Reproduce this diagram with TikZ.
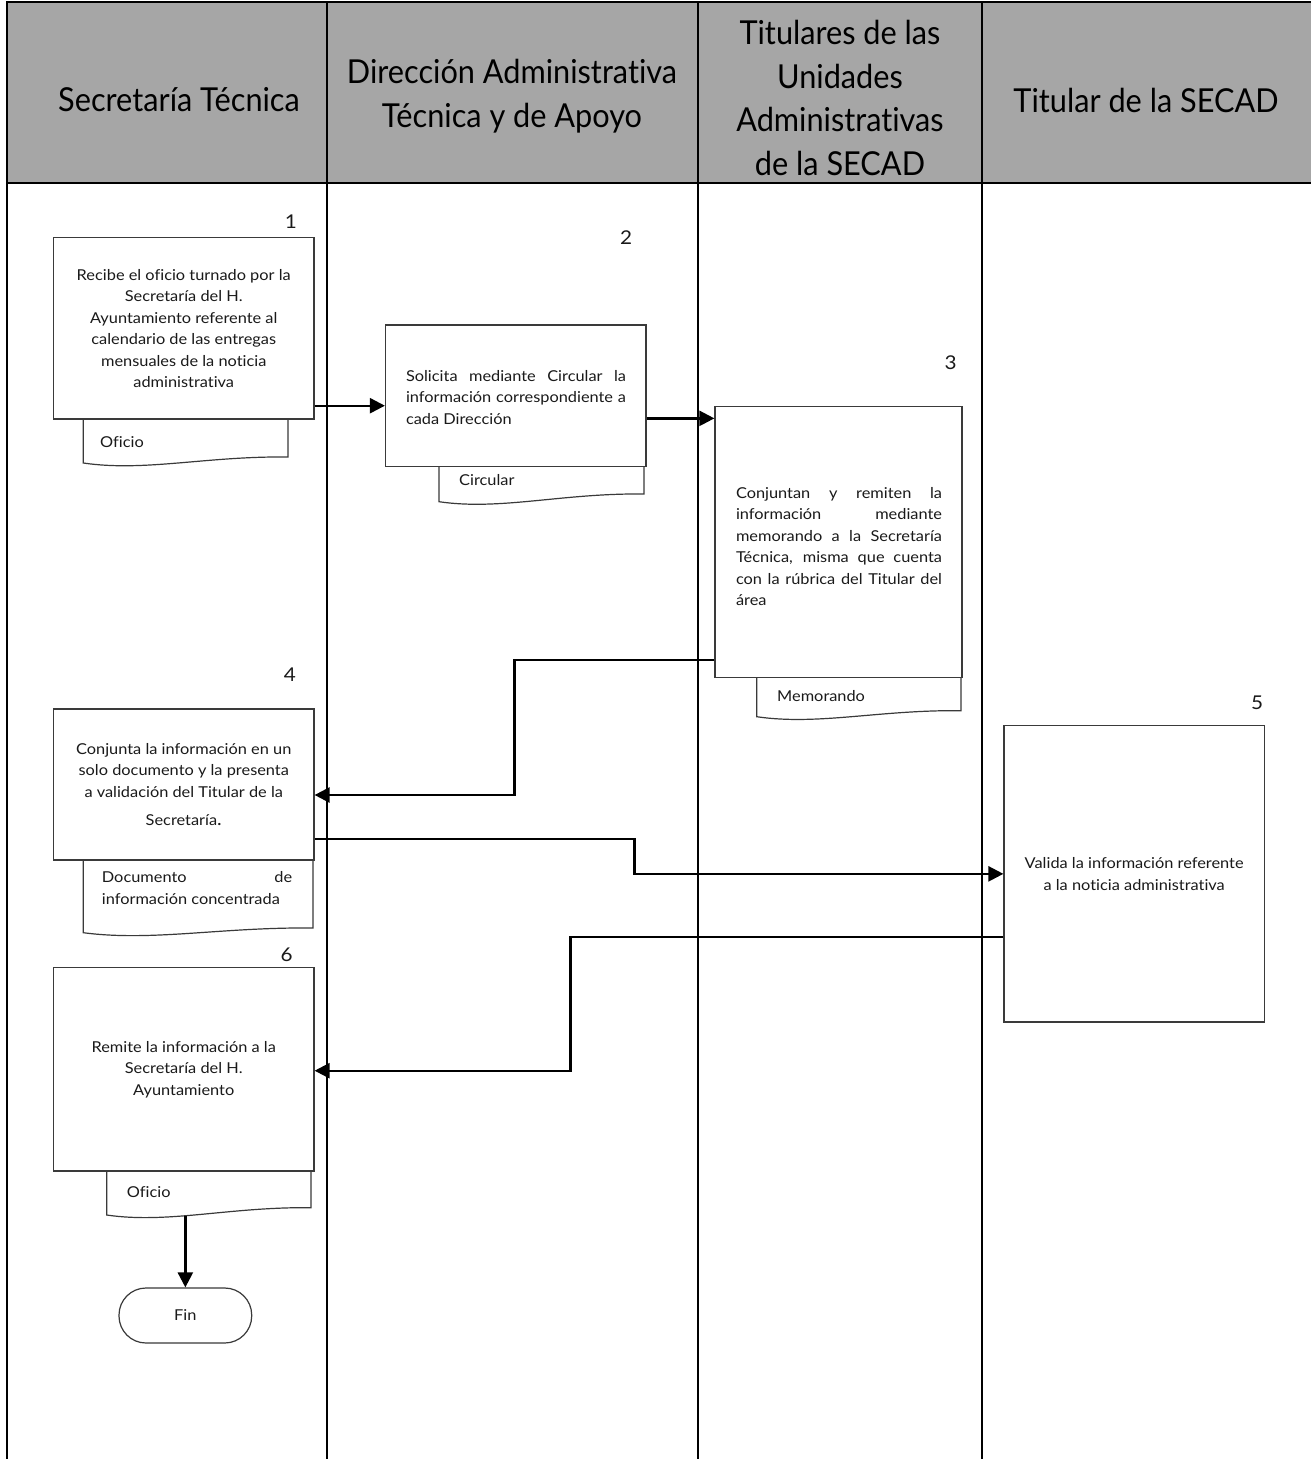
\documentclass[tikz,border=0pt]{standalone}
\usepackage{fontspec}
\setmainfont{Lato}
\newfontfamily\bodyfam{Lato}[FakeStretch=1.09, Ligatures=NoCommon]
\newfontfamily\headfam{Lato}[FakeStretch=0.93, Ligatures=NoCommon]
\usetikzlibrary{arrows.meta,calc}

\newcommand\flowbody{\bodyfam\fontsize{15}{21.5}\selectfont}
\newcommand\flowhead{\headfam\fontsize{33}{43.5}\selectfont}
\newcommand\flownum{\bodyfam\fontsize{19}{22}\selectfont}

\definecolor{headgray}{HTML}{A6A6A6}
\definecolor{boxline}{HTML}{3A3A3A}
\definecolor{inktext}{HTML}{1A1A1A}

\begin{document}
\begin{tikzpicture}[x=1pt,y=-1pt,
  lane/.style={line width=2.5pt, black},
  headtext/.style={font=\flowhead, align=center, inner sep=0pt, text=black},
  stepbox/.style={draw=boxline, line width=1.2pt, fill=white, inner sep=0pt,
    align=center, font=\flowbody, text=inktext},
  textblock/.style={inner sep=0pt, align=left, font=\flowbody, text=inktext},
  doctext/.style={inner sep=0pt, anchor=west, align=left, font=\flowbody, text=inktext},
  docline/.style={draw=boxline, line width=1.2pt},
  numlabel/.style={font=\flownum, inner sep=0pt, text=inktext},
  terminal/.style={draw=boxline, line width=1.2pt, rounded corners=27pt,
    minimum width=132.7pt, minimum height=55pt, inner sep=0pt, font=\flowbody, text=inktext},
  flow/.style={line width=2.4pt, black, -{Triangle[length=15pt,width=15pt]}}
]
\useasboundingbox (0,0) rectangle (1311,1459);
\fill[white] (0,0) rectangle (1311,1459);

% header band and lane borders
\fill[headgray] (7,2) rectangle (1311,183);
\draw[lane] (7,2) -- (1311,2);
\draw[lane] (7,183) -- (1311,183);
\draw[lane] (7,1) -- (7,1459);
\draw[lane] (327,2) -- (327,1459);
\draw[lane] (698,2) -- (698,1459);
\draw[lane] (982,2) -- (982,1459);

% lane titles
\node[headtext] (h1) at (179,100) {Secretaría Técnica};
\node[headtext] (h2) at (512,96) {Dirección Administrativa\\Técnica y de Apoyo};
\node[headtext] (h3) at (840,98) {Titulares de las\\Unidades\\Administrativas\\de la SECAD};
\node[headtext] (h4) at (1146,100) {Titular de la SECAD};

% step 1
\node[numlabel] (n1) at (291,222) {1};
\node[stepbox, minimum width=260.5pt, minimum height=181.3pt] (box1) at (183.75,328.35)
  {Recibe el oficio turnado por la\\Secretaría del H.\\Ayuntamiento referente al\\calendario de las entregas\\mensuales de la noticia\\administrativa};
\draw[docline] (83.3,419) -- (83.3,463) .. controls (144.7,472) and (206.1,456) .. (288,457) -- (288,419);
\node[doctext] (doc1) at (100,441.7) {Oficio};

% step 2
\node[numlabel] (n2) at (626,238) {2};
\node[stepbox, minimum width=260.5pt, minimum height=141.7pt] (box2) at (515.75,395.85) {};
\node[textblock] (box2txt) at (516,397.5)
  {\makebox[220pt][s]{Solicita mediante Circular la}\\
   \makebox[220pt][s]{información correspondiente a}\\
   \makebox[220pt][l]{cada Dirección}};
\draw[docline] (439,466.7) -- (439,501.7) .. controls (500.5,510.7) and (562,493) .. (644,494) -- (644,466.7);
\node[doctext] (doc2) at (459,480) {Circular};

% step 3
\node[numlabel] (n3) at (950.7,363) {3};
\node[stepbox, minimum width=247pt, minimum height=271pt] (box3) at (838.5,542.2) {};
\node[textblock] (box3txt) at (839,546.3)
  {\makebox[206pt][s]{Conjuntan y remiten la}\\
   \makebox[206pt][s]{información mediante}\\
   \makebox[206pt][s]{memorando a la Secretaría}\\
   \makebox[206pt][s]{Técnica, misma que cuenta}\\
   \makebox[206pt][s]{con la rúbrica del Titular del}\\
   \makebox[206pt][l]{área}};
\draw[docline] (756.7,677.7) -- (756.7,716.7) .. controls (818,725.7) and (879.3,709.7) .. (961,710.7) -- (961,677.7);
\node[doctext] (doc3) at (777,696) {Memorando};

% step 4
\node[numlabel] (n4) at (290,675) {4};
\node[stepbox, minimum width=260.5pt, minimum height=151pt] (box4) at (183.75,784.5)
  {Conjunta la información en un\\solo documento y la presenta\\a validación del Titular de la\\[7pt]Secretaría{\fontsize{18}{21.5}\selectfont.}};
\draw[docline] (83.3,860) -- (83.3,932.7) .. controls (152.2,941.7) and (221.1,927) .. (313,928) -- (313,860);
\node[doctext] (doc4) at (101.7,888)
  {\makebox[190.3pt][s]{Documento de}\\
   \makebox[190.3pt][l]{información concentrada}};

% step 5
\node[numlabel] (n5) at (1257,703) {5};
\node[stepbox, minimum width=260.3pt, minimum height=296.3pt] (box5) at (1134.15,873.85)
  {Valida la información referente\\a la noticia administrativa};

% step 6
\node[numlabel] (n6) at (286.7,955) {6};
\node[stepbox, minimum width=260.5pt, minimum height=203.3pt] (box6) at (183.75,1069.35)
  {Remite la información a la\\Secretaría del H.\\Ayuntamiento};
\draw[docline] (106.7,1171) -- (106.7,1215) .. controls (168,1224) and (229.3,1206.7) .. (311,1207.7) -- (311,1171);
\node[doctext] (doc6) at (126.7,1191.7) {Oficio};

% end
\node[terminal] (fin) at (185.35,1315.5) {Fin};

% connectors
\coordinate (c12) at ($(box1.east)+(0,77.35)$);
\draw[flow] (c12) -- (c12 -| box2.west);
\coordinate (c23) at ($(box2.east)+(0,22.5)$);
\draw[flow] (c23) -- (c23 -| box3.west);
\coordinate (c34) at ($(box3.west)+(0,117.8)$);
\coordinate (e34) at ($(box4.east)+(0,10.5)$);
\draw[flow] (c34) -- ++(-200,0) |- (e34);
\coordinate (c45) at ($(box4.east)+(0,54.5)$);
\draw[flow] (c45) -- ++(320,0) |- (box5.west);
\coordinate (c56) at ($(box5.west)+(0,62.85)$);
\coordinate (e56) at ($(box6.east)+(0,1.35)$);
\draw[flow] (c56) -- ++(-433,0) |- (e56);
\coordinate (c6f) at (fin.north |- 0,1216);
\draw[flow] (c6f) -- (fin.north);
\end{tikzpicture}
\end{document}
